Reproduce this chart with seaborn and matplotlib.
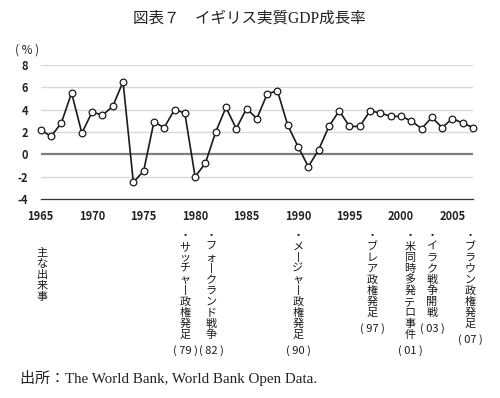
import numpy as np
import pandas as pd
import matplotlib
matplotlib.use("Agg")
import matplotlib.pyplot as plt
from matplotlib.ticker import MultipleLocator
import seaborn as sns

years = list(range(1965, 2008))
growth = [2.2, 1.6, 2.8, 5.5, 1.9, 3.8, 3.5, 4.3, 6.5, -2.5,
          -1.5, 2.9, 2.4, 4.0, 3.7, -2.0, -0.8, 2.0, 4.2, 2.3,
          4.1, 3.2, 5.4, 5.7, 2.6, 0.7, -1.1, 0.4, 2.5, 3.9,
          2.5, 2.5, 3.9, 3.7, 3.4, 3.4, 3.0, 2.3, 3.3, 2.4,
          3.2, 2.8, 2.4]

yticks = [-4, -2, 0, 2, 4, 6, 8]
xticks = [1965, 1970, 1975, 1980, 1985, 1990, 1995, 2000, 2005]

event_years = [1979, 1982, 1990, 1997, 2001, 2003, 2007]
event_texts = ["・サッチャー政権発足", "・フォークランド戦争", "・メージャー政権発足",
               "・ブレア政権発足", "・米同時多発テロ事件", "・イラク戦争開戦",
               "・ブラウン政権発足"]
event_codes = ["( 79 )", "( 82 )", "( 90 )", "( 97 )", "( 01 )", "( 03 )", "( 07 )"]

title = "図表７　イギリス実質GDP成長率"
source = "出所：The World Bank, World Bank Open Data."

df = pd.DataFrame({"year": years, "growth": growth})

sns.set_style("white")
plt.rcParams["font.family"] = ["Noto Sans CJK JP", "DejaVu Sans"]

W, H = 500, 398
fig = plt.figure(figsize=(W / 100, H / 100), dpi=100)
ax = fig.add_axes([40.7 / W, 1 - 199 / H, (473 - 40.7) / W, (199 - 65) / H])

for v in yticks[1:]:
    if v == 0:
        ax.axhline(v, color="#7f7f7f", lw=1.6, zorder=1)
    else:
        ax.axhline(v, color="#d9d9d9", lw=1.0, zorder=1)

sns.lineplot(data=df, x="year", y="growth", ax=ax, color="#1a1a1a", lw=1.2,
             marker="o", markersize=4.8, markerfacecolor="white",
             markeredgecolor="#1a1a1a", markeredgewidth=0.9, zorder=3,
             clip_on=False)

ax.set_xlim(1965, 2007)
ax.set_ylim(-4, 8)
ax.set_yticks(yticks)
ax.set_yticklabels([str(v) for v in yticks], fontsize=8, fontweight="bold", color="#222222")
ax.set_xticks(xticks)
ax.set_xticklabels([str(v) for v in xticks], fontsize=8, fontweight="bold", color="#222222")
ax.xaxis.set_minor_locator(MultipleLocator(1))
ax.tick_params(axis="x", which="major", direction="inout", length=6, width=0.9,
               color="#333333", pad=5)
ax.tick_params(axis="x", which="minor", direction="inout", length=3, width=0.8,
               color="#333333")
ax.tick_params(axis="y", length=0, pad=9)
for s in ["left", "right", "top"]:
    ax.spines[s].set_visible(False)
ax.spines["bottom"].set_color("#333333")
ax.spines["bottom"].set_linewidth(0.9)
ax.set_xlabel("")
ax.set_ylabel("")

fig.text(27.5 / W, 1 - 50 / H, "( % )", fontsize=8.5, ha="center", va="center", color="#222222")
fig.text(249 / W, 1 - 19 / H, title, fontsize=11.2, ha="center", va="center",
         family=["Liberation Serif", "Noto Sans CJK JP"], color="#222222")
fig.text(20 / W, 1 - 378 / H, source, fontsize=10.8, ha="left", va="center",
         family=["Liberation Serif", "Noto Sans CJK JP"], color="#222222")

step = 11.0
def vtext(xpx, ytop, s, fs=8):
    for i, ch in enumerate(s):
        c = "丨" if ch == "ー" else ch
        fig.text(xpx / W, 1 - (ytop + i * step) / H, c, fontsize=fs,
                 ha="center", va="center", color="#1a1a1a")
    return ytop + (len(s) - 1) * step

vtext(42, 253, "主な出来事")
code_y = {1979: 351, 1982: 351, 1990: 351, 1997: 329, 2001: 351, 2003: 329, 2007: 340}
xpos = {1979: 185, 1982: 211, 1990: 298, 1997: 372, 2001: 410, 2003: 432, 2007: 470}
for yr, t, c in zip(event_years, event_texts, event_codes):
    vtext(xpos[yr], 236, t)
    fig.text(xpos[yr] / W, 1 - code_y[yr] / H, c, fontsize=8, ha="center",
             va="center", color="#1a1a1a")

fig.savefig("out.png", dpi=100)
